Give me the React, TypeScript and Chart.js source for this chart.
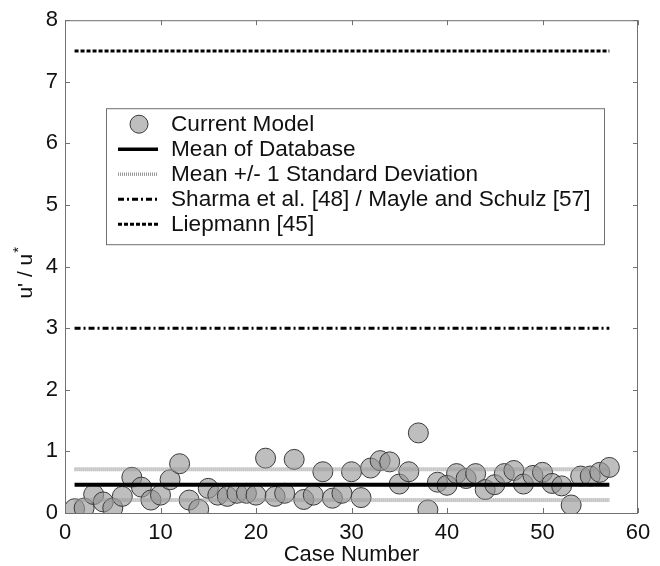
import React, { useEffect, useRef } from "react";
import { Chart, registerables } from "chart.js";

Chart.register(...registerables);

// ---- data ----
const caseNumbers = [
  1, 2, 3, 4, 5, 6, 7, 8, 9, 10, 11, 12, 13, 14, 15, 16, 17, 18, 19, 20,
  21, 22, 23, 24, 25, 26, 27, 28, 29, 30, 31, 32, 33, 34, 35, 36, 37, 38, 39, 40,
  41, 42, 43, 44, 45, 46, 47, 48, 49, 50, 51, 52, 53, 54, 55, 56, 57,
];
const currentModel = [
  0.07, 0.08, 0.3, 0.18, 0.08, 0.27, 0.58, 0.42, 0.21, 0.29,
  0.54, 0.8, 0.21, 0.06, 0.4, 0.29, 0.27, 0.32, 0.32, 0.29,
  0.89, 0.27, 0.32, 0.87, 0.22, 0.29, 0.67, 0.24, 0.32, 0.67,
  0.25, 0.73, 0.85, 0.83, 0.47, 0.67, 1.3, 0.05, 0.5, 0.45,
  0.64, 0.56, 0.64, 0.38, 0.46, 0.64, 0.69, 0.47, 0.61, 0.66,
  0.48, 0.44, 0.13, 0.6, 0.6, 0.66, 0.74,
];
const lineCaseRange = [1, 57];
const meanOfDatabase = 0.46;
const stdUpper = 0.71;
const stdLower = 0.21;
const sharmaMayle = 3.0;
const liepmann = 7.5;
const xTickValues = [0, 10, 20, 30, 40, 50, 60];
const yTickValues = [0, 1, 2, 3, 4, 5, 6, 7, 8];
const seriesLabels = [
  "Current Model",
  "Mean of Database",
  "Mean +/- 1 Standard Deviation",
  "Sharma et al. [48] / Mayle and Schulz [57]",
  "Liepmann [45]",
];
const xTitle = "Case Number";
const yTitleMain = "u' / u";
const yTitleSup = "*";

const FONT = "'Liberation Sans', Arial, Helvetica, sans-serif";

const hLine = (v: number) => lineCaseRange.map((x) => ({ x, y: v }));

const markerFill = "rgba(150,150,150,0.62)";
const markerStroke = "#3a3a3a";

const framePlugin = {
  id: "frame",
  afterDatasetsDraw(chart: any) {
    const { ctx, chartArea: a } = chart;
    // legend
    const ds = chart.data.datasets;
    const lx = a.left + 41;
    const ly = a.top + 88;
    const lw = 498;
    const lh = 136;
    ctx.save();
    ctx.fillStyle = "#fff";
    ctx.fillRect(lx, ly, lw, lh);
    ctx.strokeStyle = "#707070";
    ctx.lineWidth = 1;
    ctx.strokeRect(lx + 0.5, ly + 0.5, lw, lh);
    ctx.font = `22.6px ${FONT}`;
    ctx.textBaseline = "middle";
    ctx.textAlign = "left";
    const legendOrder = [0, 1, 2, 4, 5];
    legendOrder.forEach((di, i) => {
      const d = ds[di];
      const cy = ly + 16 + i * 25;
      if (di === 0) {
        ctx.beginPath();
        ctx.arc(lx + 33, cy, 9, 0, Math.PI * 2);
        ctx.fillStyle = markerFill;
        ctx.fill();
        ctx.strokeStyle = markerStroke;
        ctx.lineWidth = 1;
        ctx.stroke();
      } else {
        ctx.save();
        ctx.strokeStyle = d.borderColor;
        ctx.lineWidth = Math.min(d.borderWidth, 3.5);
        ctx.setLineDash(d.borderDash || []);
        ctx.beginPath();
        ctx.moveTo(lx + 12, cy);
        ctx.lineTo(lx + 52, cy);
        ctx.stroke();
        ctx.restore();
      }
      ctx.fillStyle = "#111";
      ctx.fillText(d.label, lx + 65, cy + 1);
    });
    ctx.restore();
  },
  afterDraw(chart: any) {
    const { ctx, chartArea: a, scales } = chart;
    ctx.save();
    ctx.strokeStyle = "#707070";
    ctx.lineWidth = 1;
    ctx.beginPath();
    scales.x.ticks.forEach((t: any) => {
      const px = Math.round(scales.x.getPixelForValue(t.value)) + 0.5;
      ctx.moveTo(px, a.bottom);
      ctx.lineTo(px, a.bottom - 5);
      ctx.moveTo(px, a.top);
      ctx.lineTo(px, a.top + 5);
    });
    scales.y.ticks.forEach((t: any) => {
      const py = Math.round(scales.y.getPixelForValue(t.value)) + 0.5;
      ctx.moveTo(a.left, py);
      ctx.lineTo(a.left + 5, py);
      ctx.moveTo(a.right, py);
      ctx.lineTo(a.right - 5, py);
    });
    ctx.stroke();
    ctx.strokeRect(a.left + 0.5, a.top + 0.5, a.right - a.left - 1, a.bottom - a.top);
    // y title with superscript
    ctx.translate(32, (a.top + a.bottom) / 2 + 32);
    ctx.rotate(-Math.PI / 2);
    ctx.fillStyle = "#111";
    ctx.textBaseline = "alphabetic";
    ctx.textAlign = "left";
    ctx.font = `21px ${FONT}`;
    ctx.fillText(yTitleMain, 0, 0);
    const w = ctx.measureText(yTitleMain).width;
    ctx.font = `15px ${FONT}`;
    ctx.fillText(yTitleSup, w + 1, -9);
    ctx.restore();
  },
};

export default function App() {
  const ref = useRef<HTMLCanvasElement | null>(null);
  useEffect(() => {
    if (!ref.current) return;
    const lineDs = (label: string, v: number, color: string, width: number, dash: number[]) => ({
      label,
      data: hLine(v),
      showLine: true,
      borderColor: color,
      backgroundColor: color,
      borderWidth: width,
      borderDash: dash,
      pointRadius: 0,
      order: 0,
    });
    const chart = new Chart(ref.current, {
      type: "scatter",
      data: {
        datasets: [
          {
            label: seriesLabels[0],
            data: caseNumbers.map((x, i) => ({ x, y: currentModel[i] })),
            pointRadius: 10,
            pointBackgroundColor: markerFill,
            pointBorderColor: markerStroke,
            pointBorderWidth: 1,
            showLine: false,
            order: 1,
          },
          lineDs(seriesLabels[1], meanOfDatabase, "#000", 4, []),
          lineDs(seriesLabels[2], stdUpper, "#9a9a9a", 4, [1, 1]),
          lineDs("", stdLower, "#9a9a9a", 4, [1, 1]),
          lineDs(seriesLabels[3], sharmaMayle, "#000", 3, [6, 3, 2, 3]),
          lineDs(seriesLabels[4], liepmann, "#000", 3, [4, 2]),
        ],
      },
      options: {
        responsive: false,
        animation: false,
        events: [],
        layout: { padding: { top: 19, right: 22, left: 0, bottom: 0 } },
        plugins: {
          legend: { display: false },
          tooltip: { enabled: false },
          title: { display: false },
        },
        scales: {
          x: {
            type: "linear",
            min: 0,
            max: 60,
            afterFit: (s: any) => {
              s.height = 53;
            },
            afterBuildTicks: (s: any) => {
              s.ticks = xTickValues.map((value) => ({ value }));
            },
            grid: { display: false, drawTicks: false },
            border: { display: false },
            ticks: {
              padding: 7,
              maxRotation: 0,
              autoSkip: false,
              color: "#111",
              font: { family: FONT, size: 22 },
            },
            title: {
              display: true,
              text: xTitle,
              color: "#111",
              font: { family: FONT, size: 22, lineHeight: 1 },
              padding: { top: 0, bottom: 0 },
            },
          },
          y: {
            type: "linear",
            min: 0,
            max: 8,
            afterFit: (s: any) => {
              s.width = 65;
            },
            afterBuildTicks: (s: any) => {
              s.ticks = yTickValues.map((value) => ({ value }));
            },
            grid: { display: false, drawTicks: false },
            border: { display: false },
            ticks: {
              padding: 7,
              autoSkip: false,
              color: "#111",
              font: { family: FONT, size: 22 },
            },
          },
        },
      },
      plugins: [framePlugin],
    });
    return () => chart.destroy();
  }, []);
  return (
    <div style={{ position: "absolute", left: 0, top: 0, width: 660, height: 566, background: "#fff" }}>
      <canvas ref={ref} width={660} height={566} style={{ display: "block" }} />
    </div>
  );
}
